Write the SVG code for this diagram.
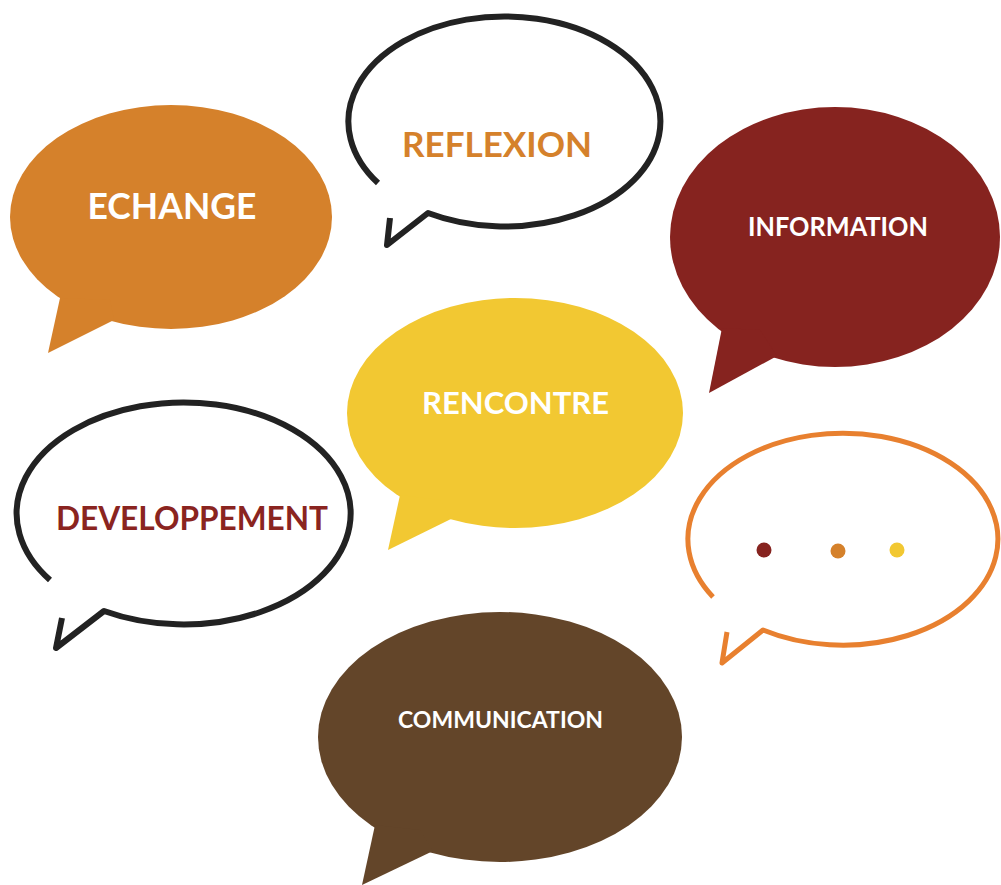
<svg xmlns="http://www.w3.org/2000/svg" width="1001" height="885" viewBox="0 0 1001 885">
<style>
.lbl{font-family:Lato,"Open Sans","Liberation Sans",sans-serif;font-weight:bold;text-anchor:middle}
.w{fill:#ffffff}
.out{fill:none;stroke:#222222;stroke-width:6;stroke-linejoin:round;stroke-linecap:butt}
.outo{fill:none;stroke:#E8802F;stroke-width:5;stroke-linejoin:round;stroke-linecap:butt}
</style>
<rect width="1001" height="885" fill="#ffffff"/>
<g id="echange">
<ellipse cx="171" cy="217" rx="161" ry="112" fill="#D5812B"/>
<polygon points="60,298 48,353 114,320 110,300" fill="#D5812B"/>
<text class="lbl w" x="172" y="219" font-size="36" textLength="169" lengthAdjust="spacingAndGlyphs">ECHANGE</text>
</g>
<g id="reflexion">
<path class="out" d="M390,218 L387,245 L428,213 A156,105 0 1 0 378,183"/>
<text class="lbl" x="497" y="157" font-size="35" fill="#D5812B" textLength="190" lengthAdjust="spacingAndGlyphs">REFLEXION</text>
</g>
<g id="information">
<ellipse cx="835" cy="237" rx="165" ry="130" fill="#86231F"/>
<polygon points="722,328 709,393 777,356 760,330" fill="#86231F"/>
<text class="lbl w" x="838" y="236" font-size="26" textLength="180" lengthAdjust="spacingAndGlyphs">INFORMATION</text>
</g>
<g id="developpement">
<path class="out" d="M62,618 L56,648 L104,611 A167,111 0 1 0 50,580"/>
<text class="lbl" x="192" y="530" font-size="32" fill="#8A2420" textLength="272" lengthAdjust="spacingAndGlyphs">DEVELOPPEMENT</text>
</g>
<g id="rencontre">
<ellipse cx="515" cy="413" rx="168" ry="115" fill="#F2C832"/>
<polygon points="400,495 388,550 453,518 440,500" fill="#F2C832"/>
<text class="lbl w" x="515.5" y="414" font-size="31" textLength="187" lengthAdjust="spacingAndGlyphs">RENCONTRE</text>
</g>
<g id="dots">
<path class="outo" d="M727,632 L722,663 L763,630 A155,106 0 1 0 713,597"/>
<circle cx="764" cy="550" r="7.5" fill="#86231F"/>
<circle cx="838" cy="551" r="7.5" fill="#D5812B"/>
<circle cx="897" cy="550" r="7.5" fill="#F2C832"/>
</g>
<g id="communication">
<ellipse cx="500" cy="737" rx="182" ry="125" fill="#634529"/>
<polygon points="375,825 362,885 433,851 420,830" fill="#634529"/>
<text class="lbl w" x="500.5" y="728" font-size="22" textLength="205" lengthAdjust="spacingAndGlyphs">COMMUNICATION</text>
</g>
<g id="connectors"/>
</svg>
